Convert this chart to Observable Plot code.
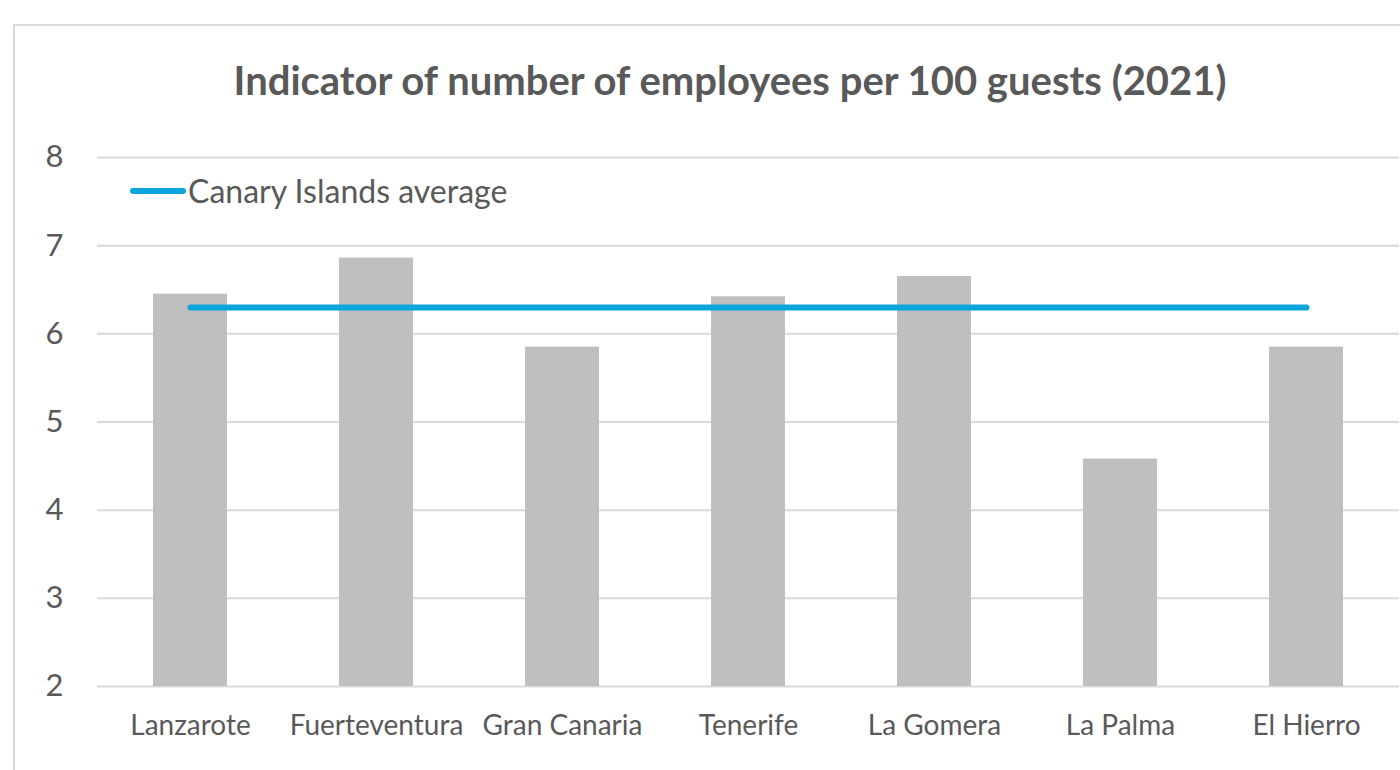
<!DOCTYPE html>
<html>
<head>
<meta charset="utf-8">
<script src="https://cdn.jsdelivr.net/npm/d3@7"></script>
<script src="https://cdn.jsdelivr.net/npm/@observablehq/plot@0.6"></script>
<style>
  html, body { margin: 0; padding: 0; background: #fff; overflow: hidden; width: 1400px; height: 770px; }
  #frame { position: absolute; left: 13px; top: 24px; width: 1420px; height: 800px; border: 2px solid #d9d9d9; box-sizing: border-box; }
  #title { position: absolute; left: 0; width: 1460px; top: 56px; text-align: center; font-family: Lato, sans-serif; font-weight: bold; font-size: 40px; color: #595959; }
  #legend { position: absolute; left: 130px; top: 171px; font-family: Lato, sans-serif; font-size: 32px; color: #595959; display: flex; align-items: center; }
  #legend .sw { display: inline-block; width: 56px; height: 6px; border-radius: 3px; background: #0aa5dc; margin-right: 2px; }
  #chart { position: absolute; left: 0; top: 0; }
</style>
</head>
<body>
<div id="frame"></div>
<div id="chart"></div>
<div id="title">Indicator of number of employees per 100 guests (2021)</div>
<div id="legend"><span class="sw"></span><span>Canary Islands average</span></div>
<script>
const islands = ["Lanzarote", "Fuerteventura", "Gran Canaria", "Tenerife", "La Gomera", "La Palma", "El Hierro"];
const indicator = [6.45, 6.86, 5.85, 6.42, 6.65, 4.58, 5.85];
const canaryAverage = 6.30;
const yTicks = [2, 3, 4, 5, 6, 7, 8];

const bars = islands.map((island, i) => ({island, value: indicator[i]}));
const avgLine = islands.map(island => ({island, value: canaryAverage}));

const plot = Plot.plot({
  width: 1400,
  height: 770,
  marginLeft: 97,
  marginRight: 1,
  marginTop: 157,
  marginBottom: 84,
  style: { fontFamily: "Lato, sans-serif", color: "#595959", background: "transparent" },
  x: { domain: islands, paddingInner: 0.6, paddingOuter: 0.3, label: null },
  y: { domain: [2, 8], label: null },
  marks: [
    Plot.gridY(yTicks, { stroke: "#d9d9d9", strokeOpacity: 1, strokeWidth: 2 }),
    Plot.barY(bars, { x: "island", y1: 2, y2: "value", fill: "#bfbfbf" }),
    Plot.line(avgLine, { x: "island", y: "value", stroke: "#0aa5dc", strokeWidth: 6, strokeLinecap: "round" }),
    Plot.axisY(yTicks, { tickSize: 0, tickPadding: 34, fontSize: 31, fill: "#595959", tickFormat: d => String(d), label: null }),
    Plot.axisX({ tickSize: 0, tickPadding: 29, fontSize: 28, fill: "#595959", label: null })
  ]
});
document.getElementById("chart").appendChild(plot);
</script>
</body>
</html>
